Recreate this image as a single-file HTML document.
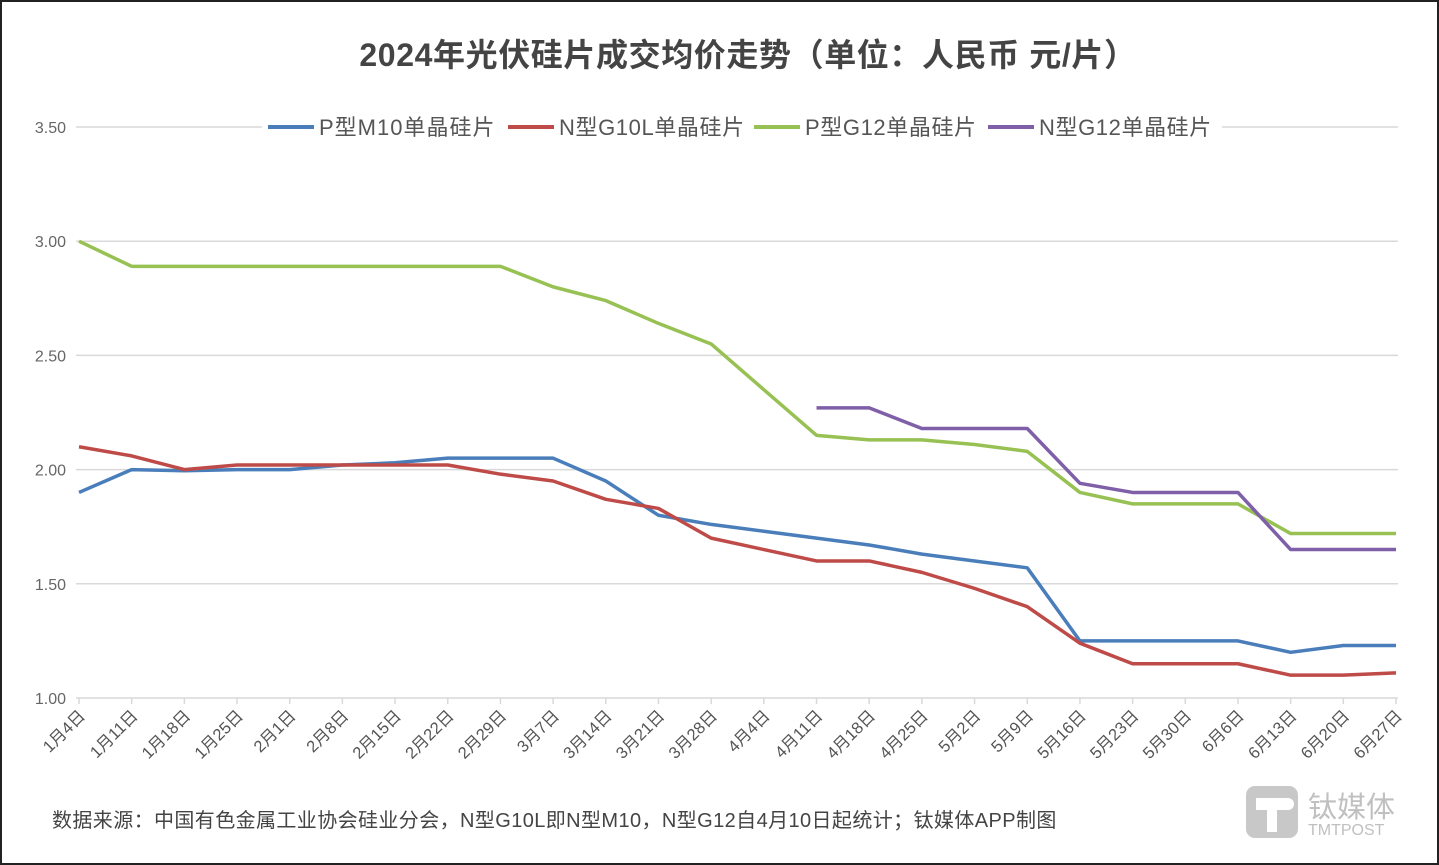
<!DOCTYPE html>
<html><head><meta charset="utf-8"><style>
body{margin:0;background:#fff;}
svg{display:block;font-family:"Liberation Sans","Noto Sans CJK SC",sans-serif;}
</style></head><body>
<svg id="c" width="1439" height="865">
<rect x="1" y="1" width="1437" height="863" fill="#fff" stroke="#222" stroke-width="2"/>
<text x="748" y="66" text-anchor="middle" font-size="32" font-weight="bold" fill="#444" letter-spacing="0.6">2024年光伏硅片成交均价走势（单位：人民币 元/片）</text>
<g id="grid"></g><g id="xax"></g><g id="lines"></g>
<g id="legend">
<rect x="262" y="112" width="960" height="30" fill="#fff"/>
<line x1="268" y1="127" x2="314" y2="127" stroke="#4a7ebb" stroke-width="4"/><text x="319" y="135" font-size="22" fill="#555" letter-spacing="1">P型M10单晶硅片</text>
<line x1="508" y1="127" x2="554" y2="127" stroke="#be4b48" stroke-width="4"/><text x="559" y="135" font-size="22" fill="#555" letter-spacing="0.6">N型G10L单晶硅片</text>
<line x1="754" y1="127" x2="800" y2="127" stroke="#98c154" stroke-width="4"/><text x="805" y="135" font-size="22" fill="#555" letter-spacing="0.6">P型G12单晶硅片</text>
<line x1="988" y1="127" x2="1034" y2="127" stroke="#7f5fa8" stroke-width="4"/><text x="1039" y="135" font-size="22" fill="#555" letter-spacing="0.6">N型G12单晶硅片</text>
</g>
<text x="52" y="827" font-size="20" fill="#444" letter-spacing="0.4">数据来源：中国有色金属工业协会硅业分会，N型G10L即N型M10，N型G12自4月10日起统计；钛媒体APP制图</text>
<g>
<rect x="1246" y="786" width="52" height="52" rx="9" fill="#c8c8c8"/>
<path d="M1256 798 h32 a6 6 0 0 1 0 12 h-11 v22 h-10 v-22 h-11 z" fill="#fff"/>
<text x="1308" y="817" font-size="29" fill="#c0c0c0">钛媒体</text>
<text x="1308" y="835" font-size="16" fill="#c0c0c0">TMTPOST</text>
</g>
</svg>
<script>
const categories=["1月4日","1月11日","1月18日","1月25日","2月1日","2月8日","2月15日","2月22日","2月29日","3月7日","3月14日","3月21日","3月28日","4月4日","4月11日","4月18日","4月25日","5月2日","5月9日","5月16日","5月23日","5月30日","6月6日","6月13日","6月20日","6月27日"];
const pM10=[1.90,2.00,1.995,2.00,2.00,2.02,2.03,2.05,2.05,2.05,1.95,1.80,1.76,1.73,1.70,1.67,1.63,1.60,1.57,1.25,1.25,1.25,1.25,1.20,1.23,1.23];
const nG10L=[2.10,2.06,2.00,2.02,2.02,2.02,2.02,2.02,1.98,1.95,1.87,1.83,1.70,1.65,1.60,1.60,1.55,1.48,1.40,1.24,1.15,1.15,1.15,1.10,1.10,1.11];
const pG12=[3.00,2.89,2.89,2.89,2.89,2.89,2.89,2.89,2.89,2.80,2.74,2.64,2.55,2.35,2.15,2.13,2.13,2.11,2.08,1.90,1.85,1.85,1.85,1.72,1.72,1.72];
const nG12=[null,null,null,null,null,null,null,null,null,null,null,null,null,null,2.27,2.27,2.18,2.18,2.18,1.94,1.90,1.90,1.90,1.65,1.65,1.65];
const yTicks=[1.00,1.50,2.00,2.50,3.00,3.50];
const NS="http://www.w3.org/2000/svg";
const x=i=>79+i*(1396-79)/25;
const y=v=>698-(v-1)*(698-127)/2.5;
function mk(t,a,p){const e=document.createElementNS(NS,t);for(const k in a)e.setAttribute(k,a[k]);p.appendChild(e);return e;}
const grid=document.getElementById('grid');
yTicks.forEach(v=>{
 const l=mk('line',{x1:76,x2:1398,y1:y(v),y2:y(v),stroke:'#d9d9d9','stroke-width':1.5},grid);
 
 
 const t=mk('text',{x:66,y:y(v)+6,'text-anchor':'end','font-size':16,fill:'#666'},grid);
 t.textContent=v.toFixed(2);
 
 
});
const xax=document.getElementById('xax');
categories.forEach((c,i)=>{
 mk('line',{x1:x(i),x2:x(i),y1:698,y2:704,stroke:'#d9d9d9','stroke-width':1.5},xax);
 const t=mk('text',{x:x(i)+7,y:717,'text-anchor':'end','font-size':16.5,fill:'#555',transform:`rotate(-45 ${x(i)+7} 717)`},xax);
 t.textContent=c;
 
 
});
const lines=document.getElementById('lines');
[[pM10,'#4a7ebb','line-p-m10'],[nG10L,'#be4b48','line-n-g10l'],[pG12,'#98c154','line-p-g12'],[nG12,'#7f5fa8','line-n-g12']].forEach(([d,col,name])=>{
 let pts=[];d.forEach((v,i)=>{if(v!=null)pts.push(x(i)+','+y(v));});
 const p=mk('polyline',{points:pts.join(' '),fill:'none',stroke:col,'stroke-width':3.5,'stroke-linejoin':'round'},lines);
 
 
});
</script>
</body></html>
